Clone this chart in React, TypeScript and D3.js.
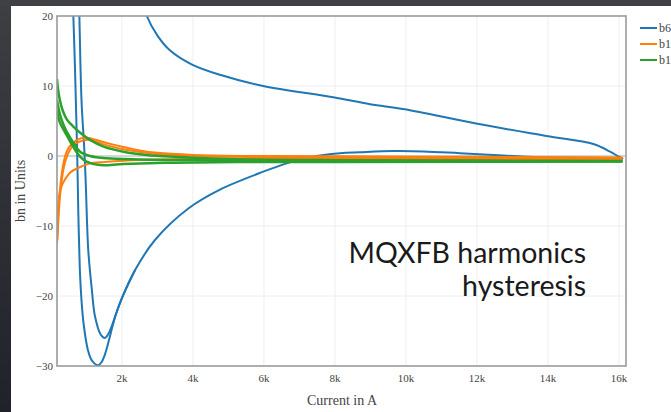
import React from "react";
import * as d3 from "d3";

const W = 671;
const H = 412;

// x in A, y in Units
const blueUp1: [number, number][] = [
  [550, 35], [600, 24], [630, 20], [680, 12], [700, 8], [740, 0], [770, -8], [790, -12],
  [820, -17], [860, -20.6], [920, -24], [1040, -27.7], [1150, -29.2], [1330, -29.9],
  [1430, -29.4], [1530, -28.2], [1630, -26.4], [1730, -24.4], [1830, -22.6], [1990, -20.4],
  [2370, -16.3], [2930, -12], [3870, -7.5], [4760, -4.8], [5980, -2.24], [6640, -1.05],
  [7300, -0.19], [8140, 0.38], [8700, 0.52], [9640, 0.7], [10500, 0.65], [11520, 0.4],
  [13400, -0.1], [15270, -0.43], [16100, -0.55],
];
const blueUp2: [number, number][] = [
  [740, 32], [800, 20], [860, 8], [940, 0.86], [980, -3.9], [1050, -13.4], [1150, -19],
  [1240, -22.9], [1400, -25.5], [1520, -26], [1620, -25.4], [1720, -24.2], [1830, -22.6],
  [1990, -20.4], [2370, -16.3],
];
const blueDown: [number, number][] = [
  [2450, 25], [2700, 20], [3000, 17.2], [3350, 15.1], [3960, 13.1], [4760, 11.6], [5980, 10],
  [7950, 8.4], [8990, 7.4], [9970, 6.67], [11940, 4.67], [13960, 2.86], [15280, 1.71],
  [15750, 0.62], [16000, -0.1], [16120, -0.4],
];
const orangeA: [number, number][] = [
  [170, -12.5], [190, -10], [220, -7], [260, -4.5], [320, -2], [400, 0], [500, 1.2],
  [650, 2], [800, 2.45], [950, 2.6], [1100, 2.55], [1400, 2.1], [1700, 1.7], [2040, 1.3],
  [2500, 0.8], [3000, 0.45], [4000, 0.15], [5300, 0], [8000, -0.05], [12000, -0.12], [16100, -0.2],
];
const orangeB: [number, number][] = [
  [175, -11], [200, -7.5], [240, -5.5], [300, -4.3], [390, -3.4], [500, -2.6], [580, -2.2],
  [860, -1.5], [1100, -1.05], [1500, -0.85], [2040, -0.67], [3000, -0.5], [5300, -0.35],
  [8000, -0.4], [12000, -0.42], [16100, -0.45],
];
const orangeC: [number, number][] = [
  [180, -12], [250, -6], [330, -2.5], [420, -0.5], [550, 1], [700, 1.8], [900, 2.2],
  [1100, 2.3], [1400, 1.8], [2000, 1.0], [3000, 0.3], [5300, -0.1], [9000, -0.2], [16100, -0.3],
];
const greenA: [number, number][] = [
  [170, 11], [200, 9.5], [250, 8], [330, 6.5], [450, 5.2], [630, 4.2], [850, 3.2], [1100, 2.3],
  [1500, 1.3], [2040, 0.62], [2700, 0.15], [3450, -0.1], [5300, -0.45], [8000, -0.6],
  [12000, -0.65], [16100, -0.7],
];
const greenB: [number, number][] = [
  [170, 8], [250, 6], [350, 4.5], [450, 3.4], [630, 1.9], [820, 0.6], [1100, 0], [1570, -0.33],
  [2500, -0.5], [3450, -0.57], [5300, -0.65], [8000, -0.7], [16100, -0.75],
];
const greenC: [number, number][] = [
  [170, 6.5], [250, 4.8], [350, 3.8], [440, 3], [630, 1.3], [820, -0.1], [1000, -0.8],
  [1380, -1.3], [2040, -1.14], [3450, -0.95], [5300, -0.85], [8000, -0.85], [16100, -0.8],
];

const xTicks = [2000, 4000, 6000, 8000, 10000, 12000, 14000, 16000];
const yTicks = [20, 10, 0, -10, -20, -30];
const legendNames = ["b6", "b10", "b14"];
const colors = ["#1f77b4", "#ff7f0e", "#2ca02c"];

const series = [
  { data: blueUp1, c: 0 }, { data: blueUp2, c: 0 }, { data: blueDown, c: 0 },
  { data: orangeA, c: 1 }, { data: orangeB, c: 1 }, { data: orangeC, c: 1 },
  { data: greenA, c: 2 }, { data: greenB, c: 2 }, { data: greenC, c: 2 },
];

export default function App() {
  const L = 57, R = 626, T = 16, B = 366;
  const x = d3.scaleLinear().domain([170, 16200]).range([L, R]);
  const y = d3.scaleLinear().domain([-30, 20]).range([B, T]);
  const line = d3
    .line<[number, number]>()
    .x((d) => x(d[0]))
    .y((d) => y(d[1]))
    .curve(d3.curveCatmullRom.alpha(0.5));
  const serif = "'Liberation Serif', 'Times New Roman', serif";
  const fmt = (v: number) => (v === 0 ? "0" : v < 0 ? "\u2212" + Math.abs(v) : String(v));

  return (
    <svg
      width={W}
      height={H}
      style={{ position: "absolute", left: 0, top: 0 }}
    >
      <defs>
        <linearGradient id="bgL" x1="0" y1="0" x2="0" y2="1">
          <stop offset="0" stopColor="#3e3f43" />
          <stop offset="1" stopColor="#20222a" />
        </linearGradient>
        <clipPath id="plotClip">
          <rect x={L} y={T} width={R - L} height={B - T} />
        </clipPath>
      </defs>
      <rect x={0} y={0} width={W} height={H} fill="url(#bgL)" />
      <rect x={0} y={0} width={W} height={6} fill="#404145" />
      <rect x={11} y={6} width={W - 11} height={H - 6} fill="#ffffff" />

      {/* grid */}
      {xTicks.map((t) => (
        <line key={"gx" + t} x1={x(t)} x2={x(t)} y1={T} y2={B} stroke="#eeeeee" strokeWidth={1} />
      ))}
      {yTicks.filter((t) => t !== 0 && t !== 20 && t !== -30).map((t) => (
        <line key={"gy" + t} x1={L} x2={R} y1={y(t)} y2={y(t)} stroke="#eeeeee" strokeWidth={1} />
      ))}
      <line x1={L} x2={R} y1={y(0)} y2={y(0)} stroke="#c8c8c8" strokeWidth={1.5} />

      {/* curves */}
      <g clipPath="url(#plotClip)">
        {series.map((s, i) => (
          <path
            key={i}
            d={line(s.data) || ""}
            fill="none"
            stroke={colors[s.c]}
            strokeWidth={s.c === 2 ? 2.5 : 2}
            strokeLinejoin="round"
          />
        ))}
      </g>

      {/* frame */}
      <rect x={L} y={T} width={R - L} height={B - T} fill="none" stroke="#9a9a9a" strokeWidth={1.6} />

      {/* tick labels */}
      {xTicks.map((t) => (
        <text
          key={"tx" + t}
          x={x(t)}
          y={382}
          textAnchor="middle"
          fontFamily={serif}
          fontSize={11}
          fill="#444"
        >
          {t / 1000 + "k"}
        </text>
      ))}
      {yTicks.map((t) => (
        <text
          key={"ty" + t}
          x={53}
          y={y(t) + 4}
          textAnchor="end"
          fontFamily={serif}
          fontSize={11}
          fill="#444"
        >
          {fmt(t)}
        </text>
      ))}

      {/* axis titles */}
      <text x={307} y={405} fontFamily={serif} fontSize={14} fill="#444">
        Current in A
      </text>
      <text
        transform={`translate(25, ${(T + B) / 2}) rotate(-90)`}
        textAnchor="middle"
        fontFamily={serif}
        fontSize={14}
        fill="#444"
      >
        bn in Units
      </text>

      {/* legend */}
      {legendNames.map((n, i) => (
        <g key={n}>
          <line
            x1={640}
            x2={657}
            y1={28 + i * 16}
            y2={28 + i * 16}
            stroke={colors[i]}
            strokeWidth={2}
          />
          <text x={659} y={32 + i * 16} fontFamily={serif} fontSize={12} fill="#444">
            {n}
          </text>
        </g>
      ))}

      {/* annotation */}
      <text
        x={586}
        y={263}
        textAnchor="end"
        fontFamily="Lato, 'Open Sans', sans-serif"
        fontSize={28.5}
        fill="#1a1a1a"
      >
        MQXFB harmonics
      </text>
      <text
        x={586}
        y={296}
        textAnchor="end"
        fontFamily="Lato, 'Open Sans', sans-serif"
        fontSize={28.5}
        fill="#1a1a1a"
      >
        hysteresis
      </text>
    </svg>
  );
}
